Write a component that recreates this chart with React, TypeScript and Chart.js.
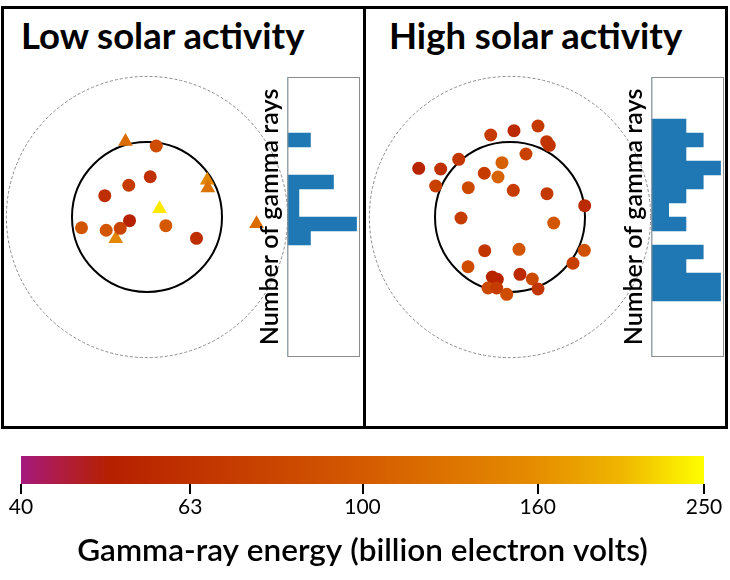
import React, { useEffect, useRef } from 'react';
import { Chart, registerables } from 'chart.js';

Chart.register(...registerables);

const FONT = 'Lato, "Noto Sans", sans-serif';
Chart.defaults.font.family = FONT;
Chart.defaults.color = '#000';

// ---- colour scale (gamma-ray energy, billion electron volts) ----
const ENERGY_TICKS = [40, 63, 100, 160, 250];
const CMAP_ENERGY = [40, 44.6, 50.7, 63, 100, 158, 200, 250];
const CMAP_COLOR = ['#a5197d', '#b01d40', '#b52000', '#c03200', '#d45a00', '#e58c00', '#efb500', '#ffff00'];

// ---- low solar activity: offsets from the Sun's centre (solar radii) ----
const lowCircleX = [0.123, 0.043, -0.243, -0.563, -0.233, -0.873, -0.544, -0.357, 0.251, 0.66];
const lowCircleY = [0.947, 0.537, 0.423, 0.284, -0.049, -0.143, -0.177, -0.151, -0.116, -0.284];
const lowCircleE = [85, 62, 70, 60, 52, 95, 95, 78, 98, 60];
const lowTriX = [-0.287, 0.803, 0.811, 0.167, -0.416, 1.46];
const lowTriY = [1.007, 0.489, 0.387, 0.111, -0.289, -0.089];
const lowTriE = [118, 150, 125, 235, 150, 118];

// ---- high solar activity ----
const highX = [-0.257, 0.053, 0.373, 0.489, 0.524, -1.217, -0.924, -0.684, 0.213, -0.107, -0.343, -0.16, -0.991, -0.556, 0.044, 0.493, 0.996, -0.653, 0.583, -0.337, 0.12, 0.991, 0.84, -0.56, -0.236, -0.169, 0.133, 0.297, -0.293, -0.177, -0.044, 0.373];
const highY = [1.093, 1.151, 1.213, 1.004, 0.956, 0.649, 0.64, 0.769, 0.84, 0.724, 0.583, 0.533, 0.413, 0.391, 0.356, 0.311, 0.151, -0.013, -0.08, -0.449, -0.431, -0.444, -0.617, -0.663, -0.8, -0.831, -0.764, -0.827, -0.947, -0.947, -1.031, -0.96];
const highE = [70, 58, 68, 66, 64, 53, 62, 66, 75, 105, 70, 108, 74, 82, 70, 68, 57, 70, 96, 66, 95, 90, 72, 85, 53, 54, 57, 82, 82, 70, 85, 65];

// ---- histograms of gamma rays along the vertical offset (top bin first) ----
const BINS = ['1', '2', '3', '4', '5', '6', '7', '8', '9', '10', '11', '12', '13', '14', '15', '16', '17', '18', '19', '20'];
const lowCounts = [0, 0, 0, 0, 2, 0, 0, 4, 1, 1, 6, 2, 0, 0, 0, 0, 0, 0, 0, 0];
const highCounts = [0, 0, 0, 2, 3, 2, 4, 3, 2, 1, 2, 0, 3, 2, 4, 4, 0, 0, 0, 0];

const SUN_RADIUS = 1;
const OUTER_RADIUS = 1.875;

function hexToRgb(h: string) {
  const n = parseInt(h.slice(1), 16);
  return [(n >> 16) & 255, (n >> 8) & 255, n & 255];
}

function energyColor(e: number) {
  const l = Math.log(e);
  const last = CMAP_ENERGY.length - 2;
  for (let i = 0; i <= last; i++) {
    const a = Math.log(CMAP_ENERGY[i]);
    const b = Math.log(CMAP_ENERGY[i + 1]);
    if (l <= b || i === last) {
      const t = Math.min(1, Math.max(0, (l - a) / (b - a)));
      const c1 = hexToRgb(CMAP_COLOR[i]);
      const c2 = hexToRgb(CMAP_COLOR[i + 1]);
      const c = c1.map((v, k) => Math.round(v + (c2[k] - v) * t));
      return `rgb(${c[0]},${c[1]},${c[2]})`;
    }
  }
  return CMAP_COLOR[0];
}

const ringsPlugin = {
  id: 'rings',
  beforeDatasetsDraw(chart: any) {
    const { ctx, scales } = chart;
    const xs = scales.x;
    const ys = scales.y;
    const cx = xs.getPixelForValue(0);
    const cy = ys.getPixelForValue(0);
    const rings = [
      { r: OUTER_RADIUS, color: '#8a8a8a', width: 1, dash: [3, 2] },
      { r: SUN_RADIUS, color: '#000000', width: 2, dash: [] as number[] },
    ];
    rings.forEach((ring) => {
      const rp = Math.abs(xs.getPixelForValue(ring.r) - cx);
      ctx.save();
      ctx.beginPath();
      ctx.arc(cx, cy, rp, 0, Math.PI * 2);
      ctx.lineWidth = ring.width;
      ctx.strokeStyle = ring.color;
      ctx.setLineDash(ring.dash);
      ctx.stroke();
      ctx.restore();
    });
  },
};

const boxPlugin = {
  id: 'box',
  afterDatasetsDraw(chart: any) {
    const { ctx, chartArea } = chart;
    ctx.save();
    ctx.strokeStyle = '#8c8c8c';
    ctx.lineWidth = 1;
    ctx.strokeRect(chartArea.left + 0.5, chartArea.top + 0.5, chartArea.width - 1, chartArea.height - 1);
    ctx.restore();
  },
};

function points(xs: number[], ys: number[]) {
  return xs.map((x, i) => ({ x, y: ys[i] }));
}

function scatterConfig(sets: { xs: number[]; ys: number[]; es: number[]; style: string; radius: number }[]): any {
  return {
    type: 'scatter',
    data: {
      datasets: sets.map((s) => ({
        data: points(s.xs, s.ys),
        pointStyle: s.style,
        pointRadius: s.radius,
        pointBorderWidth: 0,
        pointBackgroundColor: s.es.map(energyColor),
        pointBorderColor: s.es.map(energyColor),
        clip: false,
      })),
    },
    options: {
      animation: false,
      responsive: false,
      layout: { padding: 0, autoPadding: false },
      plugins: { legend: { display: false }, tooltip: { enabled: false } },
      scales: {
        x: { type: 'linear', min: -2, max: 2, display: false },
        y: { type: 'linear', min: -2, max: 2, display: false },
      },
    },
    plugins: [ringsPlugin],
  };
}

function histConfig(counts: number[], max: number): any {
  return {
    type: 'bar',
    data: {
      labels: BINS,
      datasets: [
        {
          data: counts,
          backgroundColor: '#1f77b4',
          borderWidth: 0,
          barPercentage: 1,
          categoryPercentage: 1,
        },
      ],
    },
    options: {
      animation: false,
      responsive: false,
      indexAxis: 'y',
      layout: { padding: { left: 21.4, right: 10, top: 10, bottom: 10 }, autoPadding: false },
      plugins: { legend: { display: false }, tooltip: { enabled: false } },
      scales: {
        x: { type: 'linear', min: 0, max, display: false },
        y: {
          type: 'category',
          grid: { display: false, drawTicks: false },
          border: { display: false },
          ticks: { display: false },
          title: {
            display: true,
            text: 'Number of gamma rays',
            color: '#000',
            font: { family: FONT, size: 25, weight: '600' },
            padding: { top: 4, bottom: 2 },
          },
        },
      },
    },
    plugins: [boxPlugin],
  };
}

function colorbarConfig(): any {
  return {
    type: 'bar',
    data: {
      labels: ['energy'],
      datasets: [
        {
          data: [[ENERGY_TICKS[0], ENERGY_TICKS[ENERGY_TICKS.length - 1]]],
          borderWidth: 0,
          borderSkipped: false,
          barPercentage: 1,
          categoryPercentage: 1,
          backgroundColor: (c: any) => {
            const chart = c.chart;
            const xs = chart.scales.x;
            if (!chart.chartArea || !xs) return CMAP_COLOR[4];
            const x0 = xs.getPixelForValue(CMAP_ENERGY[0]);
            const x1 = xs.getPixelForValue(CMAP_ENERGY[CMAP_ENERGY.length - 1]);
            const g = chart.ctx.createLinearGradient(x0, 0, x1, 0);
            CMAP_ENERGY.forEach((e, i) => {
              const off = (xs.getPixelForValue(e) - x0) / (x1 - x0);
              g.addColorStop(Math.min(1, Math.max(0, off)), CMAP_COLOR[i]);
            });
            return g;
          },
        },
      ],
    },
    options: {
      animation: false,
      responsive: false,
      indexAxis: 'y',
      layout: { padding: { left: 21, right: 26, top: 16, bottom: 7 }, autoPadding: false },
      plugins: {
        legend: { display: false },
        tooltip: { enabled: false },
        title: {
          display: true,
          position: 'bottom',
          text: 'Gamma-ray energy (billion electron volts)',
          color: '#000',
          font: { family: FONT, size: 31.5, weight: '600', lineHeight: 1.2 },
          padding: { top: 10.9, bottom: 3 },
        },
      },
      scales: {
        y: { display: false },
        x: {
          type: 'logarithmic',
          position: 'bottom',
          min: ENERGY_TICKS[0],
          max: ENERGY_TICKS[ENERGY_TICKS.length - 1],
          afterBuildTicks: (s: any) => {
            s.ticks = ENERGY_TICKS.map((v) => ({ value: v }));
          },
          ticks: {
            autoSkip: false,
            maxRotation: 0,
            padding: 1,
            color: '#000',
            font: { family: FONT, size: 21 },
            callback: (v: any) => String(v),
          },
          grid: { drawOnChartArea: false, drawTicks: true, tickLength: 10, color: '#000', lineWidth: 2 },
          border: { display: false },
          title: { display: false },
        },
      },
    },
  };
}

function ChartCanvas({ left, top, width, height, make }: { left: number; top: number; width: number; height: number; make: () => any }) {
  const ref = useRef<HTMLCanvasElement | null>(null);
  useEffect(() => {
    if (!ref.current) return;
    const chart = new Chart(ref.current, make());
    return () => chart.destroy();
  }, []);
  return (
    <canvas
      ref={ref}
      width={width}
      height={height}
      style={{ position: 'absolute', left, top, width, height, display: 'block' }}
    />
  );
}

const titleStyle: React.CSSProperties = {
  position: 'absolute',
  top: 15,
  fontFamily: FONT,
  fontWeight: 700,
  fontSize: 36.5,
  lineHeight: '40px',
  whiteSpace: 'nowrap',
  color: '#000',
};

export default function App() {
  return (
    <div style={{ position: 'fixed', left: 0, top: 0, width: 730, height: 580, background: '#fff', overflow: 'hidden' }}>
      <div style={{ position: 'absolute', left: 1, top: 6, width: 727, height: 423, border: '3px solid #000', boxSizing: 'border-box' }} />
      <div style={{ position: 'absolute', left: 363, top: 6, width: 3, height: 423, background: '#000' }} />
      <div style={{ ...titleStyle, left: 21 }}>Low solar activity</div>
      <div style={{ ...titleStyle, left: 389 }}>High solar activity</div>
      <ChartCanvas
        left={-3}
        top={67}
        width={300}
        height={300}
        make={() =>
          scatterConfig([
            { xs: lowCircleX, ys: lowCircleY, es: lowCircleE, style: 'circle', radius: 6.5 },
            { xs: lowTriX, ys: lowTriY, es: lowTriE, style: 'triangle', radius: 8.5 },
          ])
        }
      />
      <ChartCanvas
        left={360}
        top={67}
        width={300}
        height={300}
        make={() => scatterConfig([{ xs: highX, ys: highY, es: highE, style: 'circle', radius: 6.5 }])}
      />
      <ChartCanvas left={230} top={67} width={140} height={300} make={() => histConfig(lowCounts, 6.3)} />
      <ChartCanvas left={594} top={67} width={140} height={300} make={() => histConfig(highCounts, 4.2)} />
      <ChartCanvas left={0} top={440} width={730} height={140} make={colorbarConfig} />
    </div>
  );
}
